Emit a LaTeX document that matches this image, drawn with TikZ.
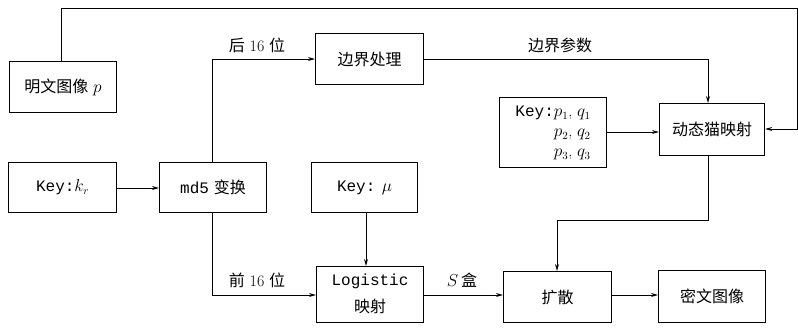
\documentclass[tikz,border=0pt]{standalone}
\usepackage{fontspec}
\setmonofont{Liberation Mono}
\newfontfamily\cjk{Noto Sans CJK SC}
\usetikzlibrary{arrows.meta,calc}
\tikzset{
  blk/.style={draw, line width=1.1pt, inner sep=0pt, anchor=north west, font=\fontsize{16}{20}\selectfont},
  conn/.style={line width=1pt, -{Stealth[length=7pt,width=4pt]}},
  lbl/.style={font=\fontsize{16}{20}\selectfont, inner sep=1pt}
}
\newcommand{\boxat}[6]{\node[blk, minimum width=#4-#2, minimum height=#5-#3] (#1) at (#2,#3) {#6};}
\begin{document}
\begin{tikzpicture}[x=1pt,y=-1pt]
\useasboundingbox (0,0) rectangle (798,327);
\boxat{plain}{9}{61}{116}{112}{{\cjk 明文图像} $p$}
\boxat{border}{315}{33}{423}{84}{\cjk 边界处理}
\boxat{kr}{8}{162}{116}{212}{\texttt{Key:}$k_r$}
\boxat{md}{159}{162}{266}{212}{\texttt{md5} {\cjk 变换}}
\boxat{kmu}{311}{162}{417}{212}{\texttt{Key:} $\mu$}
\boxat{logi}{316}{266}{423}{322}{\begin{tabular}{@{}c@{}}\texttt{Logistic}\\[7pt]{\cjk 映射}\end{tabular}}
\boxat{diff}{503}{271}{611}{322}{\cjk 扩散}
\boxat{cat}{659}{103}{764}{155}{\cjk 动态猫映射}
\boxat{cipher}{658}{270}{765}{322}{\cjk 密文图像}
\boxat{kpq}{499}{97}{606}{167}{\fontsize{16}{20}\selectfont\begin{tabular}{@{}r@{}}\texttt{Key:}$p_1$, $q_1$\\ $p_2$, $q_2$\\ $p_3$, $q_3$\end{tabular}}
% connectors
\coordinate (c1) at (61,8);
\coordinate (c2) at (797,8);
\coordinate (c3) at (797,129);
\draw[conn] (plain.north -| c1) -- (c1) -- (c2) -- (c3) -- (c3 -| cat.east);
\coordinate (m1) at (212,59);
\draw[conn] (md.north -| m1) -- (m1) -- (m1 -| border.west);
\coordinate (m2) at (212,295);
\draw[conn] (md.south -| m2) -- (m2) -- (m2 -| logi.west);
\coordinate (b1) at (708,59);
\draw[conn] (border.east |- b1) -- (b1) -- (b1 |- cat.north);
\coordinate (k1) at (0,132);
\draw[conn] (kpq.east |- k1) -- (cat.west |- k1);
\coordinate (k2) at (0,188);
\draw[conn] (kr.east |- k2) -- (md.west |- k2);
\coordinate (u1) at (366,0);
\draw[conn] (kmu.south -| u1) -- (logi.north -| u1);
\coordinate (d1) at (708,220);
\coordinate (d2) at (557,220);
\draw[conn] (cat.south -| d1) -- (d1) -- (d2) -- (d2 |- diff.north);
\coordinate (s1) at (0,295);
\draw[conn] (logi.east |- s1) -- (diff.west |- s1);
\draw[conn] (diff.east |- s1) -- (cipher.west |- s1);
% labels
\node[lbl] (l1) at (257,45) {{\cjk 后} 16 {\cjk 位}};
\node[lbl] (l2) at (560,45) {\cjk 边界参数};
\node[lbl] (l3) at (257,280) {{\cjk 前} 16 {\cjk 位}};
\node[lbl] (l4) at (462,280) {$S$\,{\cjk 盒}};
\end{tikzpicture}
\end{document}
